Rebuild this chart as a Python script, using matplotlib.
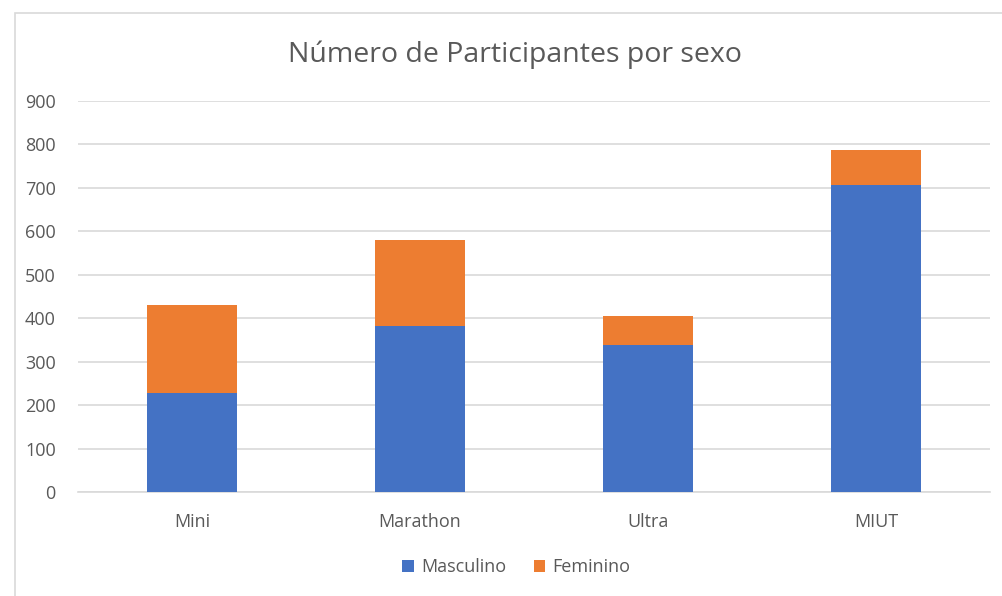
import matplotlib
matplotlib.use('Agg')
import matplotlib.pyplot as plt
from matplotlib.patches import Rectangle
import numpy as np

categorias = ['Mini', 'Marathon', 'Ultra', 'MIUT']
masculino = [227, 381, 339, 707]
feminino = [204, 200, 66, 81]

azul = '#4472C4'
laranja = '#ED7D31'
cinza = '#595959'

plt.rcParams['font.family'] = ['Open Sans', 'DejaVu Sans']

fig = plt.figure(figsize=(10.03, 5.96), dpi=100)
fig.patches.append(Rectangle((15/1003, -0.01), 1.0, 1 - 13/596 + 0.01, transform=fig.transFigure,
                             fill=False, edgecolor='#D9D9D9', linewidth=1.2))
ax = fig.add_axes([78/1003, 1 - 492/596, 912/1003, (492 - 101)/596])

x = np.arange(len(categorias))
ax.bar(x, masculino, width=0.395, color=azul, label='Masculino', zorder=3)
ax.bar(x, feminino, width=0.395, bottom=masculino, color=laranja, label='Feminino', zorder=3)

ax.set_xlim(-0.5, 3.5)
ax.set_ylim(0, 900)
ax.set_yticks(range(0, 901, 100))
ax.set_xticks(x)
ax.set_xticklabels(categorias)
ax.yaxis.grid(True, color='#D9D9D9', linewidth=1.2, zorder=0)
for s in ['top', 'right', 'left']:
    ax.spines[s].set_visible(False)
ax.spines['bottom'].set_color('#D9D9D9')
ax.spines['bottom'].set_linewidth(1.2)
ax.tick_params(axis='both', length=0, colors=cinza, labelsize=13)
ax.tick_params(axis='y', pad=16)
ax.tick_params(axis='x', pad=15)

fig.text(0.513, 1 - 55/596, 'Número de Participantes por sexo', ha='center', va='center',
         fontsize=20.5, color=cinza)

leg = fig.legend(loc='center', bbox_to_anchor=(0.515, 1 - 567/596), ncol=2, frameon=False,
                 fontsize=13, handlelength=0.65, handleheight=0.65, handletextpad=0.4, columnspacing=1.5)
for t in leg.get_texts():
    t.set_color(cinza)

fig.savefig('out.png', dpi=100)
